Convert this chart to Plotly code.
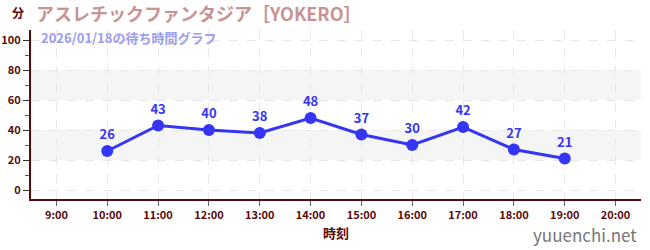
import plotly.graph_objects as go

hours = [10, 11, 12, 13, 14, 15, 16, 17, 18, 19]
waits = [26, 43, 40, 38, 48, 37, 30, 42, 27, 21]
tick_hours = [9, 10, 11, 12, 13, 14, 15, 16, 17, 18, 19, 20]
tick_labels = [f"{h}:00" for h in tick_hours]
y_ticks = [0, 20, 40, 60, 80, 100]
bands = [(20, 40), (60, 80)]

title_text = "アスレチックファンタジア［YOKERO］"
subtitle_text = "2026/01/18の待ち時間グラフ"

FONT = "Noto Sans CJK JP"
AXIS_COLOR = "#5a0a0a"
LINE_COLOR = "#3535f5"

fig = go.Figure()
fig.add_trace(go.Scatter(
    x=hours, y=waits, mode="lines+markers+text",
    text=[str(v) for v in waits], textposition="top center",
    textfont=dict(family=FONT, size=13, color=LINE_COLOR, weight="bold"),
    line=dict(color=LINE_COLOR, width=3),
    marker=dict(color=LINE_COLOR, size=12),
    cliponaxis=False, hoverinfo="skip",
))

shapes = []
for lo, hi in bands:
    shapes.append(dict(type="rect", xref="paper", x0=0, x1=1, yref="y", y0=lo, y1=hi,
                       fillcolor="#f5f5f5", line=dict(width=0), layer="below"))

fig.update_layout(
    width=650, height=250,
    margin=dict(l=31, r=9, t=30, b=51),
    paper_bgcolor="white", plot_bgcolor="white",
    showlegend=False,
    shapes=shapes,
    font=dict(family=FONT, color=AXIS_COLOR),
    xaxis=dict(
        range=[8.5, 20.5], tickvals=tick_hours, ticktext=tick_labels,
        tickfont=dict(size=11, color=AXIS_COLOR, weight="bold"),
        showgrid=True, gridcolor="#e8e8e8", griddash="dash", gridwidth=1,
        showline=True, linecolor=AXIS_COLOR, linewidth=2,
        ticks="outside", ticklen=5, tickcolor="#666666",
        zeroline=False, fixedrange=True, automargin=False,
        title=dict(text="時刻", font=dict(size=13, color=AXIS_COLOR, weight="bold"), standoff=8),
    ),
    yaxis=dict(
        range=[-6, 106.7], tickvals=y_ticks,
        tickfont=dict(size=11, color=AXIS_COLOR, weight="bold"),
        showgrid=True, gridcolor="#e8e8e8", griddash="dash", gridwidth=1,
        showline=True, linecolor=AXIS_COLOR, linewidth=2,
        ticks="outside", ticklen=6, tickcolor="#333333",
        minor=dict(tickvals=[10, 30, 50, 70, 90], ticks="outside", ticklen=4, tickcolor="#dd2222", showgrid=False),
        zeroline=False, fixedrange=True, automargin=False,
    ),
    annotations=[
        dict(text="分", xref="paper", yref="paper", x=0, xanchor="right", xshift=-5,
             y=1, yanchor="bottom", yshift=7, showarrow=False,
             font=dict(size=12, color=AXIS_COLOR, weight="bold", family=FONT)),
        dict(text=title_text, xref="paper", yref="paper", x=0, xanchor="left", xshift=3,
             y=1, yanchor="bottom", yshift=2, showarrow=False,
             font=dict(size=18, color="#c99393", weight="bold", family=FONT)),
        dict(text=subtitle_text, xref="paper", yref="paper", x=0, xanchor="left", xshift=8,
             y=1, yanchor="top", yshift=4, showarrow=False,
             font=dict(size=13, color="#9b9bf0", weight="bold", family=FONT)),
        dict(text="yuuenchi.net", xref="paper", yref="paper", x=1, xanchor="right", xshift=-2,
             y=0, yanchor="top", yshift=-21, showarrow=False,
             font=dict(size=17, color="#777777", family=FONT)),
    ],
)

fig.write_html("out.html")
